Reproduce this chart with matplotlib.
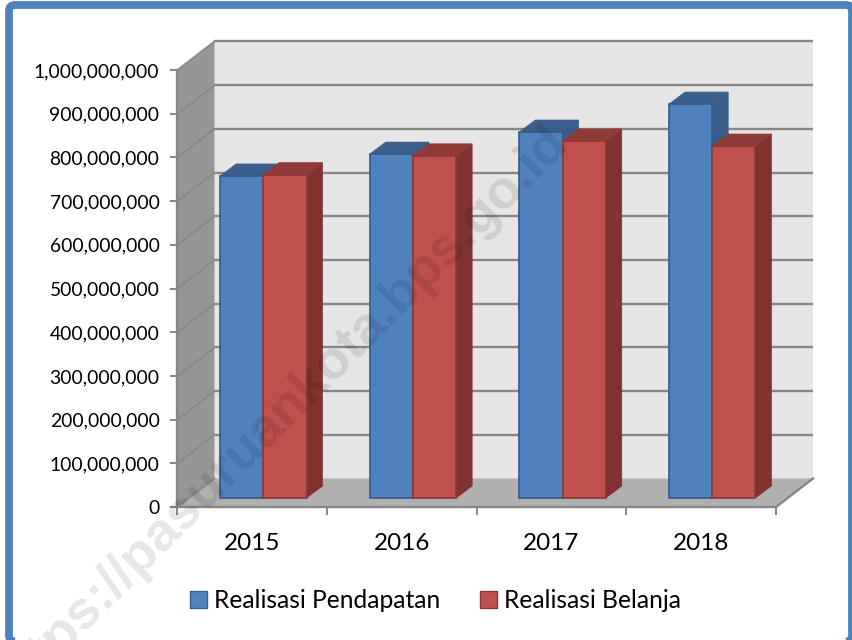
import matplotlib
matplotlib.use("Agg")
import matplotlib.pyplot as plt
from matplotlib.patches import Polygon, Rectangle, FancyBboxPatch, Patch
from matplotlib.transforms import IdentityTransform

years = ["2015", "2016", "2017", "2018"]
pendapatan = [737e6, 787e6, 837.5e6, 901.5e6]
belanja = [740e6, 783e6, 817e6, 805.5e6]
series_names = ["Realisasi Pendapatan", "Realisasi Belanja"]
y_ticks = list(range(0, 1000000001, 100000000))

W, H = 853, 640
plt.rcParams["font.family"] = ["Lato", "DejaVu Sans"]
fig = plt.figure(figsize=(W / 100, H / 100), dpi=100, facecolor="white")

# outer frame
frame = FancyBboxPatch((9, H - 641.5), 843, 636.5, boxstyle="round,pad=0,rounding_size=6",
                       transform=IdentityTransform(), fc="none", ec="#4F81BD", lw=5.6, zorder=0)
fig.add_artist(frame)

L, R, T, B = 177.5, 776, 70, 507
ax = fig.add_axes([L / W, 1 - B / H, (R - L) / W, (B - T) / H], facecolor="none")
n = len(years)
ymax = 1e9
ax.set_xlim(0, n)
ax.set_ylim(0, ymax)
px = n / (R - L)
py = ymax / (B - T)

GRID = "#868686"
wall_dx, wall_dy = 37 * px, 28.5 * py

# walls and floor
ax.add_patch(Rectangle((wall_dx, wall_dy), n, ymax, fc="#E6E6E6", ec="none", clip_on=False, zorder=1))
ax.add_patch(Polygon([(0, 0), (wall_dx, wall_dy), (wall_dx, wall_dy + ymax), (0, ymax)],
                     fc="#969696", ec="none", clip_on=False, zorder=1))
ax.add_patch(Polygon([(0, 0), (wall_dx, wall_dy), (wall_dx + n, wall_dy), (n, 0)],
                     fc="#B0B0B0", ec="none", clip_on=False, zorder=1))
for v in y_ticks:
    if v > 0:
        ax.plot([wall_dx, wall_dx + n], [v + wall_dy] * 2, color=GRID, lw=1.7, clip_on=False, zorder=2,
                solid_capstyle="butt")
    ax.plot([0, wall_dx], [v, v + wall_dy], color="#8A8A8A", lw=1.4, clip_on=False, zorder=2)
ax.plot([n, n + wall_dx], [0, wall_dy], color=GRID, lw=1.7, clip_on=False, zorder=2)

# bars
bar_w = 43.2 * px
off_x, off_y = 11 * px, 9 * py
dep_x, dep_y = 16 * px, 12 * py
styles = [("#4F81BD", "#3A5F8D", "#385D8A", "#365A88"),
          ("#C0504D", "#913B39", "#7F3230", "#8C3836")]
for s, (vals, (front, top, side, edge)) in enumerate(zip([pendapatan, belanja], styles)):
    xs = [i + 0.5 + off_x + (s - 0.5) * bar_w for i in range(n)]
    z = 3 + 3 * s
    bars = ax.bar(xs, vals, width=bar_w, bottom=off_y, fc=front, ec=edge, lw=1.2,
                  clip_on=False, zorder=z + 2)
    for b in bars:
        x0, x1 = b.get_x(), b.get_x() + b.get_width()
        y0, y1 = b.get_y(), b.get_y() + b.get_height()
        ax.add_patch(Polygon([(x1, y0), (x1 + dep_x, y0 + dep_y), (x1 + dep_x, y1 + dep_y), (x1, y1)],
                             fc=side, ec=side, lw=0.5, clip_on=False, zorder=z))
        ax.add_patch(Polygon([(x0, y1), (x0 + dep_x, y1 + dep_y), (x1 + dep_x, y1 + dep_y), (x1, y1)],
                             fc=top, ec=top, lw=0.5, clip_on=False, zorder=z + 1))

# axes
for sp in ("top", "right"):
    ax.spines[sp].set_visible(False)
for sp in ("left", "bottom"):
    ax.spines[sp].set_color(GRID)
    ax.spines[sp].set_linewidth(1.7)
    ax.spines[sp].set_zorder(2.5)
ax.set_yticks(y_ticks)
ax.set_yticklabels([f"{v:,}" for v in y_ticks])
ax.tick_params(axis="y", length=5, width=1.4, color=GRID, pad=8, labelsize=13.9, labelcolor="black")
ax.set_xticks(range(n + 1))
ax.set_xticklabels([])
ax.tick_params(axis="x", which="major", length=5.5, width=1.4, color=GRID)
ax.set_xticks([i + 0.5 for i in range(n)], labels=years, minor=True)
ax.tick_params(axis="x", which="minor", length=0, pad=18.5, labelsize=17.5, labelcolor="black")

# legend
handles = [Patch(fc="#4F81BD", ec="#385D8A", lw=1), Patch(fc="#C0504D", ec="#8C3836", lw=1)]
fig.legend(handles, series_names, loc="center", bbox_to_anchor=(435.5 / W, 1 - 601 / H), ncol=2,
           frameon=False, fontsize=17.7, handlelength=0.68, handleheight=0.68, handletextpad=0.3,
           columnspacing=1.6)

# watermark
fig.text(560 / W, 1 - 134 / H, "https://pasuruankota.bps.go.id", rotation=45, rotation_mode="anchor",
         ha="right", va="center", fontsize=39, fontweight="bold", family="Liberation Sans",
         color="black", alpha=0.1, zorder=20)

fig.savefig("out.png", dpi=100)
